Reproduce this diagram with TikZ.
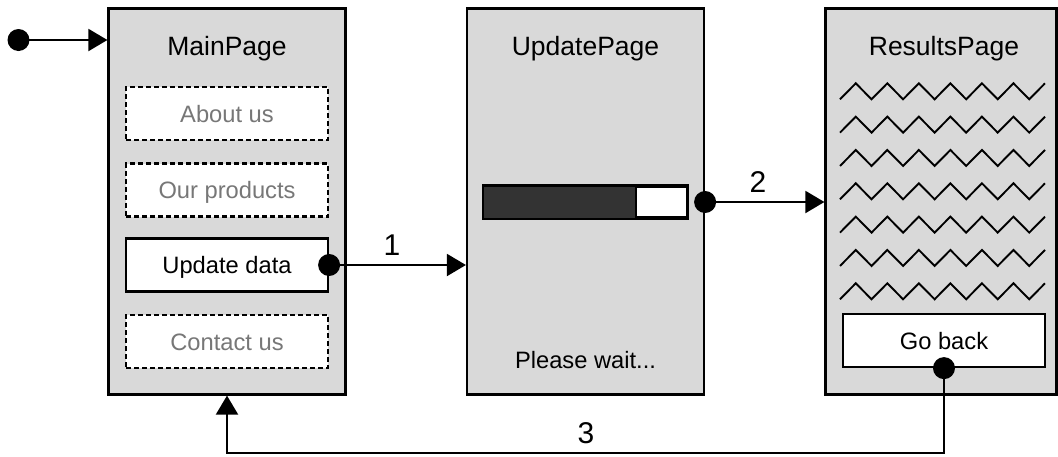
\documentclass[tikz,border=0pt]{standalone}
\usepackage{fontspec}
\setmainfont{Liberation Sans}
\usetikzlibrary{arrows.meta}
\definecolor{panelgray}{HTML}{D9D9D9}
\definecolor{textgray}{HTML}{777777}
\definecolor{bardark}{HTML}{333333}
\begin{document}
\begin{tikzpicture}[x=1pt,y=-1pt,
  panel/.style={draw=black,fill=panelgray,line width=2.2pt,minimum width=237pt,minimum height=386pt,inner sep=0pt},
  title/.style={font=\fontsize{26.5}{30}\selectfont,text height=19pt,text depth=0pt,inner sep=0pt},
  btn/.style={draw=black,fill=white,line width=2.2pt,minimum width=202pt,minimum height=53pt,inner sep=0pt,font=\fontsize{23.7}{28}\selectfont,text height=17pt,text depth=0pt},
  ghost/.style={btn,dash pattern=on 5pt off 3pt,text=textgray},
  plain/.style={inner sep=0pt,font=\fontsize{23.7}{28}\selectfont,text height=17pt,text depth=0pt},
  dot/.style={circle,fill=black,minimum size=22pt,inner sep=0pt},
  lbl/.style={font=\fontsize{30}{34}\selectfont,text height=21.5pt,text depth=0pt,inner sep=0pt},
  arr/.style={line width=2pt,-{Triangle[length=19pt,width=22pt]}},
  zz/.style={line width=1.9pt,line join=miter}
]
\useasboundingbox (0,0) rectangle (1058,456);

% panels
\node[panel] (main) at (227,201.5) {};
\node[panel] (upd) at (585.5,201.5) {};
\node[panel,minimum width=231pt] (res) at (941,201.5) {};

% titles
\node[title] (mt) at (227,45.5) {MainPage};
\node[title] (ut) at (585.5,45.5) {UpdatePage};
\node[title] (rt) at (944,45.5) {ResultsPage};

% main page buttons
\node[ghost] (about) at (227,113.5) {About us};
\node[ghost] (prod) at (227,190) {Our products};
\node[btn] (upbtn) at (227,265) {Update data};
\node[ghost] (contact) at (227,341.5) {Contact us};

% update page progress bar
\node[draw=black,fill=white,line width=2.2pt,minimum width=203pt,minimum height=31pt,inner sep=0pt] (bar) at (585.5,202) {};
\coordinate (split) at (636,202);
\fill[bardark] (bar.north west) rectangle (bar.south -| split);
\draw[line width=2.2pt] (bar.north west) rectangle (bar.south east);
\draw[line width=2.2pt] (split |- bar.north) -- (split |- bar.south);
\node[plain] (wait) at (585.5,360) {Please wait...};

% results page text lines
\foreach \k in {0,...,6}{
  \draw[zz] (840,{99.3+33.33*\k}) \foreach \i in {1,...,6}{ -- ++(15.77,-16) -- ++(15.77,16) } -- ++(15.77,-16);
}
\node[btn] (back) at (944,340.5) {Go back};

% connectors
\node[dot] (d0) at (18.5,40) {};
\draw[arr] (d0.center) -- (d0 -| main.west);

\node[dot] (d1) at (upbtn.east) {};
\draw[arr] (d1.center) -- (d1 -| upd.west);
\node[lbl] (l1) at (392,245) {1};

\node[dot] (d2) at (upd.east |- bar) {};
\draw[arr] (d2.center) -- (d2 -| res.west);
\node[lbl] (l2) at (758,181.5) {2};

\node[dot] (d3) at (back.south) {};
\draw[arr] (d3.center) -- ++(0,85) -| (main.south);
\node[lbl] (l3) at (586,432.5) {3};
\end{tikzpicture}
\end{document}
